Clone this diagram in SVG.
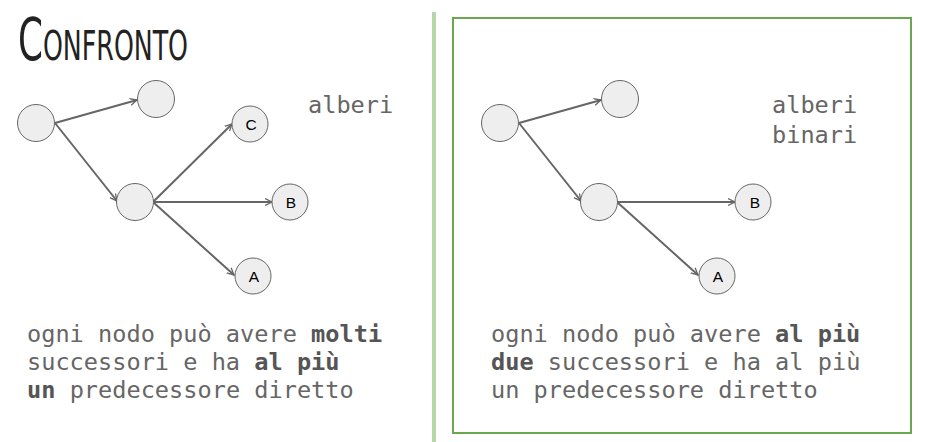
<svg xmlns="http://www.w3.org/2000/svg" width="930" height="442" viewBox="0 0 930 442">
<style>
.node{fill:#eeeeee;stroke:#666666;stroke-width:1}
.lbl{font-family:"Liberation Sans",Arial,sans-serif;font-size:15.5px;fill:#000;text-anchor:middle}
.edge{stroke:#666666;stroke-width:2;fill:none;marker-end:url(#arr)}
.mono{font-family:"DejaVu Sans Mono","Liberation Mono",monospace;font-size:23.6px;fill:#666666}
.b{font-weight:bold;fill:#555555}
.title{font-family:"DejaVu Sans Condensed","Liberation Sans Narrow","Liberation Sans",sans-serif;fill:#222222;font-variant:small-caps;font-size:58px}
</style>
<defs>
<marker id="arr" markerUnits="userSpaceOnUse" markerWidth="10" markerHeight="10" refX="7" refY="4" orient="auto" viewBox="0 0 10 8">
<path d="M0,0.5 L7,4 L0,7.5" fill="none" stroke="#666666" stroke-width="1.3"/>
</marker>
</defs>
<rect width="930" height="442" fill="#ffffff"/>
<g id="title">
<text class="title" x="18" y="60" textLength="170" lengthAdjust="spacingAndGlyphs">Confronto</text>
</g>
<line x1="434" y1="12" x2="434" y2="442" stroke="#b6d7a8" stroke-width="4"/>
<rect id="binary-box" x="453" y="18" width="458" height="415" fill="none" stroke="#6aa84f" stroke-width="2"/>
<g id="connectors">
<line class="edge" x1="55" y1="123" x2="137" y2="100"/>
<line class="edge" x1="55" y1="123" x2="117" y2="201"/>
<line class="edge" x1="153" y1="202" x2="232" y2="124"/>
<line class="edge" x1="153" y1="202" x2="272" y2="202"/>
<line class="edge" x1="153" y1="202" x2="234" y2="275"/>
<line class="edge" x1="519" y1="123" x2="601" y2="100"/>
<line class="edge" x1="519" y1="123" x2="581" y2="201"/>
<line class="edge" x1="617" y1="202" x2="735" y2="202"/>
<line class="edge" x1="617" y1="202" x2="698" y2="275"/>
</g>
<g id="l-root"><circle class="node" cx="36" cy="123" r="18.5"/></g>
<g id="l-top"><circle class="node" cx="156" cy="99" r="18.5"/></g>
<g id="l-mid"><circle class="node" cx="135" cy="202" r="18.5"/></g>
<g id="l-C"><circle class="node" cx="250" cy="124" r="18"/><text class="lbl" x="251" y="130">C</text></g>
<g id="l-B"><circle class="node" cx="290" cy="202" r="18"/><text class="lbl" x="291" y="208">B</text></g>
<g id="l-A"><circle class="node" cx="253" cy="276" r="18"/><text class="lbl" x="254" y="282">A</text></g>
<g id="r-root"><circle class="node" cx="500" cy="123" r="18.5"/></g>
<g id="r-top"><circle class="node" cx="620" cy="99" r="18.5"/></g>
<g id="r-mid"><circle class="node" cx="599" cy="202" r="18.5"/></g>
<g id="r-B"><circle class="node" cx="753" cy="202" r="18"/><text class="lbl" x="755" y="208">B</text></g>
<g id="r-A"><circle class="node" cx="717" cy="276" r="18"/><text class="lbl" x="718" y="282">A</text></g>
<g id="labels">
<text class="mono" x="308" y="113">alberi</text>
<text class="mono" x="772" y="113">alberi</text>
<text class="mono" x="772" y="143">binari</text>
<text class="mono" x="27" y="342">ogni nodo può avere <tspan class="b">molti</tspan></text>
<text class="mono" x="27" y="370">successori e ha <tspan class="b">al più</tspan></text>
<text class="mono" x="27" y="398"><tspan class="b">un</tspan> predecessore diretto</text>
<text class="mono" x="491" y="342">ogni nodo può avere <tspan class="b">al più</tspan></text>
<text class="mono" x="491" y="370"><tspan class="b">due</tspan> successori e ha al più</text>
<text class="mono" x="491" y="398">un predecessore diretto</text>
</g>
</svg>
